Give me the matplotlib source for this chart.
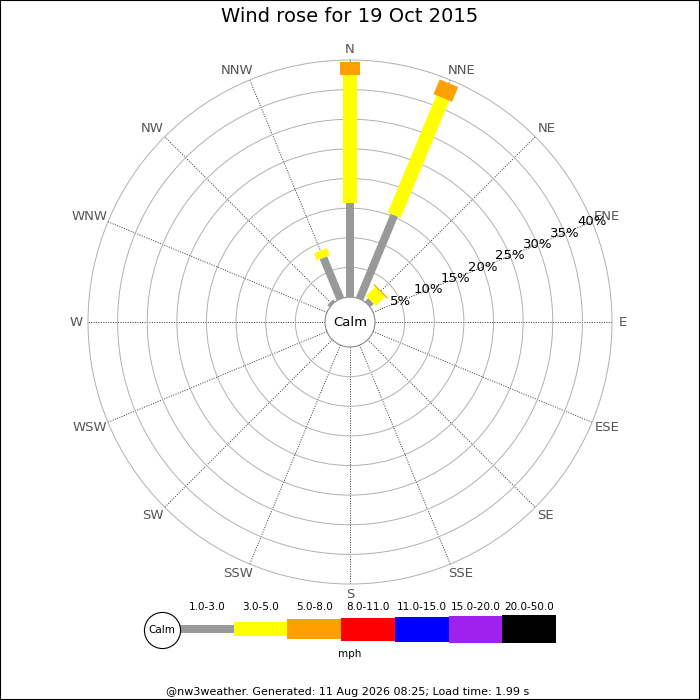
import numpy as np
import matplotlib
matplotlib.use('Agg')
import matplotlib.pyplot as plt
from matplotlib.patches import Rectangle

# Dados do gráfico
directions = ['N', 'NNE', 'NE', 'ENE', 'E', 'ESE', 'SE', 'SSE',
              'S', 'SSW', 'SW', 'WSW', 'W', 'WNW', 'NW', 'NNW']
speed_bins = ['1.0-3.0', '3.0-5.0', '5.0-8.0', '8.0-11.0',
              '11.0-15.0', '15.0-20.0', '20.0-50.0']
bin_colors = ['#999999', '#ffff00', '#ffa000', '#ff0000',
              '#0000ff', '#a020f0', '#000000']

# frequência (%) por direção para cada faixa de velocidade
freq_1_3 = [15.9, 15.3, 0.8, 0, 0, 0, 0, 0, 0, 0, 0, 0, 0, 0, 0.5, 7.5]
freq_3_5 = [21.6, 21.4, 2.2, 0, 0, 0, 0, 0, 0, 0, 0, 0, 0, 0, 0, 1.3]
freq_5_8 = [2.2, 2.7, 0.2, 0, 0, 0, 0, 0, 0, 0, 0, 0, 0, 0, 0, 0]
freq_8_11 = [0] * 16
freq_11_15 = [0] * 16
freq_15_20 = [0] * 16
freq_20_50 = [0] * 16
ring_ticks = [5, 10, 15, 20, 25, 30, 35, 40]

title = 'Wind rose for 19 Oct 2015'
footer = '@nw3weather. Generated: 11 Aug 2026 08:25; Load time: 1.99 s'

# larguras das barras (px) por faixa
bar_px = [8, 14, 20, 23, 25, 27, 28]

freqs = [freq_1_3, freq_3_5, freq_5_8, freq_8_11, freq_11_15, freq_15_20, freq_20_50]

fig = plt.figure(figsize=(7, 7), dpi=100)
W = 700.0

# eixo polar: centro em (350, 322), raio externo 262 px
cx, cy, R = 350, 322, 262
ax = fig.add_axes([(cx - R) / W, (W - cy - R) / W, 2 * R / W, 2 * R / W],
                  projection='polar')
ax.set_theta_zero_location('N')
ax.set_theta_direction(-1)
ax.set_rlim(0, 40)
ax.set_rorigin(-40 * 25 / (R - 25))

angles = np.deg2rad(np.arange(16) * 22.5)
ax.set_xticks(angles)
ax.set_xticklabels([])
ax.set_yticks(ring_ticks[:-1])
ax.set_yticklabels([])
ax.tick_params(axis='y', length=0)
ax.yaxis.grid(True, color='#b0b0b0', linestyle='-', linewidth=0.7)
ax.xaxis.grid(True, color='#333333', linestyle=(0, (1, 1.5)), linewidth=0.7)
ax.spines['polar'].set_color('#b0b0b0')
ax.spines['polar'].set_linewidth(0.7)
ax.spines['inner'].set_color('#888888')
ax.spines['inner'].set_linewidth(0.8)
ax.set_axisbelow(True)

# rótulos das direções, afastados do círculo externo conforme o tamanho do texto
renderer = fig.canvas.get_renderer()
for theta, name in zip(angles, directions):
    ux, uy = np.sin(theta), np.cos(theta)
    sx = 0 if abs(ux) < 1e-6 else np.sign(ux)
    sy = 0 if abs(uy) < 1e-6 else np.sign(uy)
    t = ax.annotate(name, xy=(theta, 40), xycoords='data',
                    textcoords='offset pixels', xytext=(0, 0),
                    ha='center', va='center', fontsize=9.5, color='#555555',
                    annotation_clip=False)
    bb = t.get_window_extent(renderer)
    t.xyann = (ux * 8 + 0.3 * bb.width * sx, uy * 8 + 2.5 * sy)

# barras empilhadas
for d, theta in enumerate(angles):
    start = 0
    for b in range(len(speed_bins)):
        val = freqs[b][d]
        if val <= 0:
            continue
        ax.plot([theta, theta], [start, start + val], color=bin_colors[b],
                linewidth=bar_px[b] * 0.72, solid_capstyle='butt', zorder=3)
        start += val

# rótulos radiais ao longo de ENE
for r in ring_ticks:
    ax.text(np.deg2rad(67.5), r, f'{r}%', ha='center', va='center',
            fontsize=9.5, color='black', zorder=4)

ax.text(0.5, 0.5, 'Calm', transform=ax.transAxes, ha='center', va='center',
        fontsize=9.5, color='black')

fig.text(0.5, 1 - 17 / W, title, ha='center', va='center', fontsize=14)

# legenda
leg = fig.add_axes([140 / W, (W - 665) / W, 430 / W, 70 / W])
leg.set_xlim(140, 570)
leg.set_ylim(665, 595)
leg.axis('off')
seg = 53.7
for i, lab in enumerate(speed_bins):
    x0 = 180 + i * seg
    leg.bar(x0, bar_px[i], width=seg, bottom=629 - bar_px[i] / 2,
            align='edge', color=bin_colors[i], linewidth=0)
    leg.text(x0 + seg / 2, 607, lab, ha='center', va='center', fontsize=7.5)
leg.plot([162], [630], 'o', markersize=26, markerfacecolor='white',
         markeredgecolor='black', markeredgewidth=0.8, zorder=5)
leg.text(162, 630, 'Calm', ha='center', va='center', fontsize=7.5, zorder=6)
leg.text(350, 654, 'mph', ha='center', va='center', fontsize=7.5)

fig.text(348 / W, 1 - 692 / W, footer, ha='center', va='center', fontsize=8)

fig.patches.append(Rectangle((0, 0), 1, 1, transform=fig.transFigure,
                             fill=False, edgecolor='black', linewidth=1.5))

fig.savefig('out.png', dpi=100)
